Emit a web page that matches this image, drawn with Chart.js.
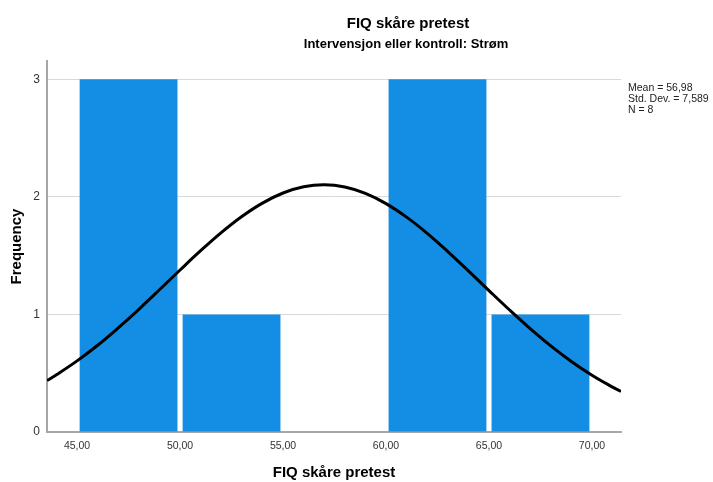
<!DOCTYPE html>
<html>
<head>
<meta charset="utf-8">
<script src="https://cdn.jsdelivr.net/npm/chart.js@4/dist/chart.umd.min.js"></script>
<style>
  body { margin: 0; background: #fff; }
</style>
</head>
<body>
<canvas id="histChart" width="713" height="482"></canvas>
<script>
  // histogram bins (width 5) and counts
  var binCenters = [47.5, 52.5, 57.5, 62.5, 67.5];
  var counts = [3, 1, 0, 3, 1];
  var xTicks = [45, 50, 55, 60, 65, 70];
  var yTicks = [0, 1, 2, 3];
  // normal curve
  var curveX = [43.54, 44, 45, 46, 47, 48, 49, 50, 51, 52, 53, 54, 55, 56, 57, 58, 59, 60, 61, 62, 63, 64, 65, 66, 67, 68, 69, 70, 71, 71.41];
  var curveY = [0.438, 0.487, 0.605, 0.738, 0.886, 1.044, 1.210, 1.378, 1.542, 1.696, 1.833, 1.947, 2.033, 2.086, 2.103, 2.084, 2.030, 1.943, 1.828, 1.690, 1.535, 1.371, 1.203, 1.038, 0.880, 0.733, 0.600, 0.483, 0.382, 0.345];
  var statLines = ['Mean = 56,98', 'Std. Dev. = 7,589', 'N = 8'];
  var mainTitle = 'FIQ skåre pretest';
  var subTitle = 'Intervensjon eller kontroll: Strøm';
  var xTitle = 'FIQ skåre pretest';
  var yTitle = 'Frequency';

  var fontFam = "'Liberation Sans', Arial, sans-serif";

  var textPlugin = {
    id: 'spssText',
    afterDraw: function (chart) {
      var ctx = chart.ctx;
      var area = chart.chartArea;
      ctx.save();
      ctx.fillStyle = '#000';
      ctx.textAlign = 'center';
      ctx.textBaseline = 'alphabetic';
      ctx.font = 'bold 15px ' + fontFam;
      ctx.fillText(mainTitle, 408, 28);
      ctx.font = 'bold 13px ' + fontFam;
      ctx.fillText(subTitle, 406, 48);
      ctx.font = 'bold 15px ' + fontFam;
      ctx.fillText(xTitle, (area.left + area.right) / 2, 477);
      ctx.save();
      ctx.translate(21, (area.top + area.bottom) / 2);
      ctx.rotate(-Math.PI / 2);
      ctx.fillText(yTitle, 0, 0);
      ctx.restore();
      ctx.textAlign = 'left';
      ctx.textBaseline = 'top';
      ctx.font = '10.5px ' + fontFam;
      ctx.fillStyle = '#222';
      for (var i = 0; i < statLines.length; i++) {
        ctx.fillText(statLines[i], area.right + 7, 83 + i * 11);
      }
      ctx.restore();
    }
  };

  var ctxH = document.getElementById('histChart').getContext('2d');
  var histChart = new Chart(ctxH, {
    type: 'bar',
    data: {
      datasets: [{
          type: 'line',
          data: curveX.map(function (x, i) { return { x: x, y: curveY[i] }; }),
          borderColor: '#000',
          borderWidth: 3,
          pointRadius: 0,
          tension: 0.4,
          fill: false,
          order: 0
        }, {
          type: 'bar',
          data: binCenters.map(function (x, i) { return { x: x, y: counts[i] }; }),
          backgroundColor: '#148ee4',
          borderWidth: 0,
          categoryPercentage: 1,
          barPercentage: 0.95,
          order: 1
        }
      ]
    },
    options: {
      responsive: false,
      animation: false,
      devicePixelRatio: 1,
      layout: { padding: { top: 61, right: 92, left: 0, bottom: 0 } },
      plugins: { legend: { display: false }, tooltip: { enabled: false } },
      scales: {
        x: {
          type: 'linear',
          min: 43.54,
          max: 71.41,
          offset: false,
          afterFit: function (s) { s.height = 50; },
          afterBuildTicks: function (s) { s.ticks = xTicks.map(function (v) { return { value: v }; }); },
          grid: { display: false, offset: false, drawTicks: false },
          border: { display: true, color: '#a6a6a6', width: 2 },
          ticks: {
            padding: 8,
            color: '#333',
            font: { family: fontFam, size: 10.5 },
            maxRotation: 0,
            callback: function (v) { return v.toFixed(2).replace('.', ','); }
          }
        },
        y: {
          min: 0,
          max: 3.156,
          afterFit: function (s) { s.width = 47; },
          afterBuildTicks: function (s) { s.ticks = yTicks.map(function (v) { return { value: v }; }); },
          grid: { color: '#d9d9d9', lineWidth: 1, drawTicks: false },
          border: { display: true, color: '#a6a6a6', width: 2 },
          ticks: {
            padding: 7,
            color: '#333',
            font: { family: fontFam, size: 12 }
          }
        }
      }
    },
    plugins: [textPlugin]
  });
</script>
</body>
</html>
